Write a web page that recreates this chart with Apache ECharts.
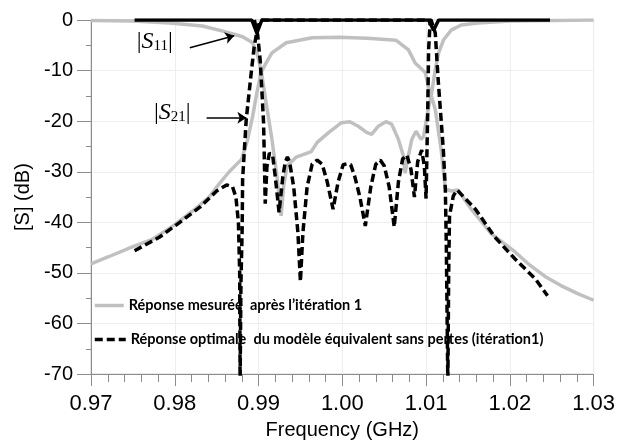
<!DOCTYPE html>
<html><head><meta charset="utf-8">
<script src="https://cdn.jsdelivr.net/npm/echarts@6/dist/echarts.min.js"></script>
<style>html,body{margin:0;padding:0;background:#fff}#c{width:618px;height:445px}</style>
</head><body><div id="c"></div>
<script>
// ---- data (frequency in GHz, |S| in dB) ----
const s11MeasF = [0.970,0.975,0.9794,0.9833,0.9862,0.9881,0.9893,0.9898,0.9903,0.9909,0.9916,0.9922,0.9927,0.9930,0.9934,0.9945,0.9963,0.9970,0.9984,0.9999,1.0009,1.0019,1.0029,1.0035,1.0043,1.0052,1.0059,1.0067,1.0073,1.0075,1.0078,1.0083,1.0088,1.0094,1.0097,1.0103,1.0106,1.0111,1.0115,1.0121,1.0130,1.0142,1.0162,1.0201,1.0250,1.0300];
const s11MeasDb = [-0.1,-0.2,-0.6,-1.2,-2.4,-3.3,-4.5,-6.5,-9.8,-16.3,-23.6,-30.9,-38.7,-32.8,-28.9,-27.1,-26.0,-24.2,-22.2,-20.3,-20.1,-21.0,-22.2,-22.6,-21.0,-20.1,-20.6,-23.6,-26.9,-30.3,-27.5,-23.6,-22.0,-23.6,-23.0,-17.3,-15.1,-9.8,-6.5,-3.9,-2.0,-1.0,-0.6,-0.2,-0.1,0];

const s21MeasF = [0.970,0.9721,0.9750,0.9774,0.9798,0.9821,0.9841,0.9853,0.9865,0.9880,0.9887,0.9893,0.9898,0.9903,0.9909,0.9916,0.9933,0.9964,0.9996,1.0030,1.0064,1.0079,1.0087,1.0099,1.0103,1.0111,1.0118,1.0123,1.0130,1.0138,1.0154,1.0178,1.0206,1.0222,1.0242,1.0261,1.0281,1.0300];
const s21MeasDb = [-48.2,-46.8,-44.8,-43.3,-40.7,-37.8,-35.0,-32.4,-30.0,-27.5,-23.6,-19.0,-14.4,-10.4,-8.5,-6.5,-4.5,-3.5,-3.4,-3.6,-4.0,-5.9,-8.5,-10.4,-13.2,-17.7,-25.6,-33.4,-33.8,-33.6,-37.4,-42.3,-45.8,-48.2,-50.7,-52.5,-54.1,-55.4];

const topOptF = [0.9752,0.9892,0.9898,0.9904,1.0103,1.0109,1.0115,1.0248];
const topOptDb = [0,0,-2.6,0,0,-2.0,0,0];

const s21OptF = [0.9752,0.9782,0.9806,0.9830,0.9850,0.9862,0.9869,0.9873,0.9876,0.98775,0.9878,0.9879,0.98805,0.9881,0.98853,0.98913,0.98948,0.98984,0.9902,1.0106,1.0111,1.01147,1.01206,1.0123,1.01242,1.0126,1.0127,1.0128,1.01325,1.0137,1.0159,1.0182,1.0206,1.0230,1.0245];
const s21OptDb = [-45.6,-42.9,-40.0,-37.0,-33.8,-32.6,-33.0,-35.0,-40.0,-50.0,-72,-52.0,-41.0,-31.5,-19.7,-10.4,-5.3,-2.0,0,0,-2.6,-12.4,-25.6,-33.4,-44.8,-72,-50.0,-38.7,-34.8,-33.6,-37.4,-42.9,-47.2,-51.1,-54.5];

const s11OptF = [0.9895,0.9899,0.9902,0.9904,0.9906,0.9907,0.9908,0.9910,0.9913,0.9915,0.9917,0.9920,0.99245,0.9929,0.9932,0.99345,0.9937,0.9942,0.9947,0.9950,0.9953,0.9958,0.9964,0.9970,0.9976,0.9982,0.9989,0.9995,1.0001,1.0006,1.0010,1.0015,1.0021,1.00275,1.0034,1.0040,1.00453,1.0050,1.0056,1.0062,1.0067,1.0072,1.0077,1.0082,1.00861,1.0090,1.00948,1.0098,1.0100,1.0102,1.0103,1.0105];
const s11OptDb = [0,-3,-8,-14,-20.3,-28,-36.3,-29,-26.3,-26.1,-27,-31,-38,-31,-28,-27.1,-28,-33,-42,-51.7,-42,-33,-28.5,-27.7,-28.5,-32,-37.4,-32,-28.6,-28.4,-28.6,-31,-35,-40.7,-33,-28.5,-27.7,-28.8,-33,-40.9,-32,-27.5,-26.7,-29.5,-35,-28,-25.7,-29,-35.3,-18,-6,0];

const xTicks = [0.97,0.98,0.99,1.00,1.01,1.02,1.03];
const yTicks = [0,-10,-20,-30,-40,-50,-60,-70];

// annotations (data coordinates)
const labelS11 = [0.9776, -4.3];
const labelS21 = [0.9797, -18.3];
const arrowS11 = [[0.9818, -5.5], [0.9871, -3.1]];
const arrowS21 = [[0.9838, -19.3], [0.98855, -19.3]];

const nameMeas = 'Réponse mesurée  après l’itération 1';
const nameOpt = 'Réponse optimale  du modèle équivalent sans pertes (itération1)';

const zip = (a, b) => a.map((v, i) => [v, b[i]]);

const chart = echarts.init(document.getElementById('c'), null, {renderer: 'canvas'});
const axisFont = 'Liberation Sans, Arial, sans-serif';
const richLbl = {
  b: {fontFamily: 'Liberation Serif', fontSize: 24, color: '#000'},
  i: {fontFamily: 'Liberation Serif', fontStyle: 'italic', fontSize: 24, color: '#000'},
  s: {fontFamily: 'Liberation Serif', fontSize: 15, color: '#000', verticalAlign: 'bottom', padding: [9, 0, 0, 0]}
};
const legendText = {fontFamily: 'Lato', fontWeight: 'bold', fontSize: 14.5, color: '#000'};
chart.setOption({
  animation: false,
  grid: {left: 91, right: 22, top: 20, bottom: 69, show: true, borderColor: '#c8c8c8', borderWidth: 1},
  xAxis: {
    type: 'value', min: 0.97, max: 1.03, interval: 0.01,
    name: 'Frequency (GHz)', nameLocation: 'middle', nameGap: 44,
    nameTextStyle: {fontFamily: axisFont, fontSize: 20, color: '#000'},
    axisLine: {show: true, onZero: false, lineStyle: {color: '#8c8c8c', width: 1}},
    axisTick: {show: true, inside: false, length: 12, lineStyle: {color: '#8c8c8c'}},
    minorTick: {show: true, splitNumber: 5, length: 8, lineStyle: {color: '#8c8c8c'}},
    splitLine: {show: true, lineStyle: {color: '#eeeeee'}},
    axisLabel: {fontFamily: axisFont, fontSize: 22, color: '#000', margin: 19,
      formatter: v => { const t = xTicks.find(k => Math.abs(k - v) < 1e-6); return t === undefined ? '' : t.toFixed(2); }}
  },
  yAxis: {
    type: 'value', min: -70, max: 0, interval: 10,
    name: '[S] (dB)', nameLocation: 'middle', nameGap: 56,
    nameTextStyle: {fontFamily: axisFont, fontSize: 20, color: '#000'},
    axisLine: {show: true, lineStyle: {color: '#8c8c8c', width: 1}},
    axisTick: {show: true, inside: false, length: 14, lineStyle: {color: '#8c8c8c'}},
    minorTick: {show: true, splitNumber: 2, length: 5, lineStyle: {color: '#8c8c8c'}},
    splitLine: {show: true, lineStyle: {color: '#eeeeee'}},
    axisLabel: {fontFamily: axisFont, fontSize: 20, color: '#000', margin: 18,
      formatter: v => { const t = yTicks.find(k => Math.abs(k - v) < 1e-6); return t === undefined ? '' : String(t); }}
  },
  legend: [
    {data: [nameMeas], left: 93, top: 298, padding: 0, itemWidth: 29, itemHeight: 14, z: 1,
     itemStyle: {opacity: 0}, lineStyle: {width: 3.5}, textStyle: legendText},
    {data: [nameOpt], left: 93, top: 332, padding: 0, itemWidth: 31, itemHeight: 14, z: 1,
     itemStyle: {opacity: 0}, lineStyle: {width: 3.5}, textStyle: legendText}
  ],
  series: [
    {name: nameMeas, type: 'line', data: zip(s11MeasF, s11MeasDb), symbol: 'none', z: 2,
     lineStyle: {color: '#c0c0c0', width: 3.5}, itemStyle: {color: '#c0c0c0'}},
    {name: 'S21 mesuré', type: 'line', data: zip(s21MeasF, s21MeasDb), symbol: 'none', z: 2,
     lineStyle: {color: '#c0c0c0', width: 3.5}, itemStyle: {color: '#c0c0c0'}},
    {name: 'enveloppe', type: 'line', data: zip(topOptF, topOptDb), symbol: 'none', z: 3,
     lineStyle: {color: '#000', width: 3.5},
     markPoint: {symbol: 'circle', symbolSize: 0, silent: true,
       data: [
         {coord: labelS11, label: {show: true, position: 'inside', formatter: '{b||}{i|S}{s|11}{b||}', rich: richLbl}},
         {coord: labelS21, label: {show: true, position: 'inside', formatter: '{b||}{i|S}{s|21}{b||}', rich: richLbl}}
       ]},
     markLine: {silent: true, symbol: ['none', 'arrow'], symbolSize: 9, label: {show: false},
       lineStyle: {color: '#000', width: 1.5, type: 'solid'},
       data: [
         [{coord: arrowS11[0]}, {coord: arrowS11[1]}],
         [{coord: arrowS21[0]}, {coord: arrowS21[1]}]
       ]}},
    {name: 'S21 optimal', type: 'line', data: zip(s21OptF, s21OptDb), symbol: 'none', z: 4,
     lineStyle: {color: '#000', width: 3.5, type: [8, 4]}, itemStyle: {color: '#000'}},
    {name: nameOpt, type: 'line', data: zip(s11OptF, s11OptDb), symbol: 'none', z: 4,
     lineStyle: {color: '#000', width: 3.5, type: [8, 4]}, itemStyle: {color: '#000'}}
  ]
});
</script>
</body></html>
